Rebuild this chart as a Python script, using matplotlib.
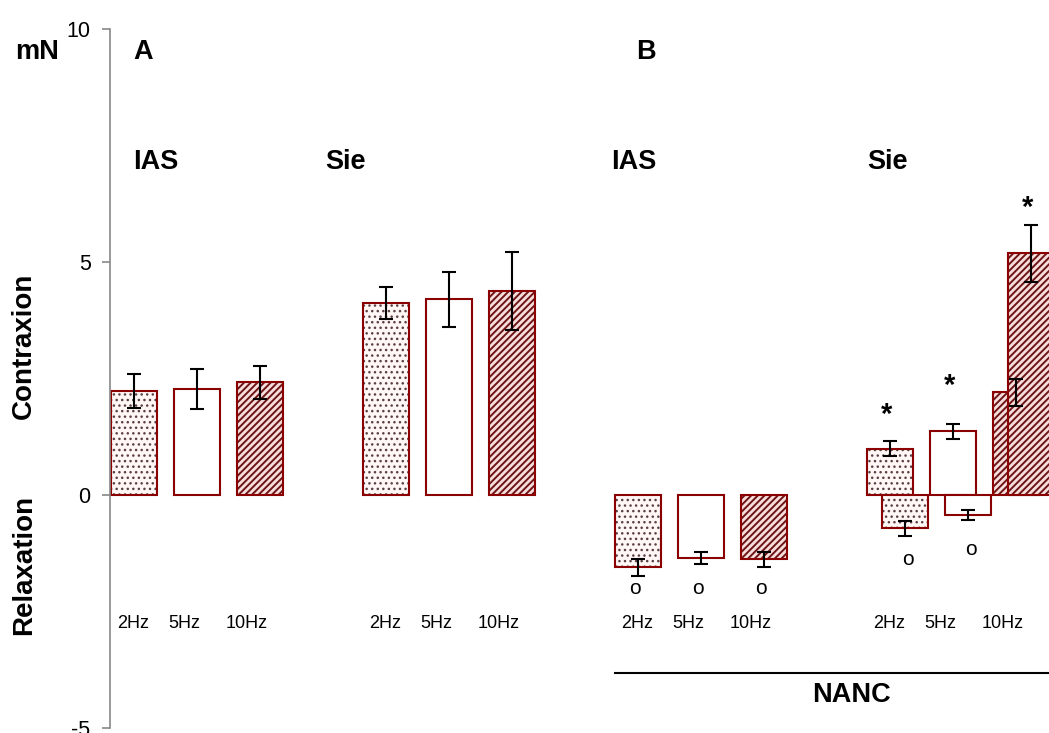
import matplotlib
matplotlib.use("Agg")
import matplotlib.pyplot as plt
from matplotlib.lines import Line2D

plt.rcParams['font.family'] = ['Liberation Sans', 'DejaVu Sans']

freqs = ["2Hz", "5Hz", "10Hz"]

# Panel A: responses to field stimulation (mN, mean ± SEM)
a_ias = [2.23, 2.27, 2.42]
a_ias_err = [0.36, 0.43, 0.35]
a_sie = [4.12, 4.20, 4.38]
a_sie_err = [0.35, 0.59, 0.84]

# Panel B: NANC conditions
b_ias = [-1.55, -1.35, -1.38]
b_ias_err = [0.18, 0.12, 0.16]
b_sie_contr = [0.99, 1.37, 2.20]
b_sie_contr_err = [0.16, 0.16, 0.30]
b_sie_second = [-0.71, -0.43, 5.19]
b_sie_second_err = [0.16, 0.10, 0.61]

# significance marks
star_y = [1.76, 2.40, 6.22]
o_ias_y = [-2.0, -2.0, -2.0]
o_sie_y = [-1.39, -1.16]

RED = '#8b0000'
styles = [
    dict(facecolor='#fff6f6', hatch='...', hatchcolor='#5a4040', hlw=1.0),
    dict(facecolor='white', hatch=None, hatchcolor=None, hlw=1.0),
    dict(facecolor='#f6dede', hatch='/////', hatchcolor='#6e1414', hlw=1.4),
]
WIDTH = 0.73
SHIFT = 0.24

fig = plt.figure(figsize=(10.49, 7.33), dpi=100)
W, H = 1049, 733
ax = fig.add_axes([110 / W, 5 / H, 939 / W, 699 / H])
ax.set_xlim(-0.381, 14.524)
ax.set_ylim(-5, 10)


def draw_group(start, values, shift=0.0):
    xs = [start + i + shift for i in range(len(values))]
    for x, v, st in zip(xs, values, styles):
        if st['hatch']:
            plt.rcParams['hatch.linewidth'] = st['hlw']
            ax.bar(x, v, width=WIDTH, color=st['facecolor'],
                   edgecolor=st['hatchcolor'], hatch=st['hatch'],
                   linewidth=0, zorder=2)
            ax.bar(x, v, width=WIDTH, fill=False, edgecolor=RED,
                   linewidth=1.5, zorder=2)
        else:
            ax.bar(x, v, width=WIDTH, color=st['facecolor'], edgecolor=RED,
                   linewidth=1.5, zorder=2)
    return xs


def draw_err(xs, values, errs):
    ax.errorbar(xs, values, yerr=errs, fmt='none', ecolor='black',
                elinewidth=1.5, capsize=5, capthick=1.5, zorder=5)


xa1 = draw_group(0, a_ias)
xa2 = draw_group(4, a_sie)
xb1 = draw_group(8, b_ias)
xb2 = draw_group(12, b_sie_contr)
xb3 = draw_group(12, b_sie_second, shift=SHIFT)

for xs, v, e in [(xa1, a_ias, a_ias_err), (xa2, a_sie, a_sie_err),
                 (xb1, b_ias, b_ias_err), (xb2, b_sie_contr, b_sie_contr_err),
                 (xb3, b_sie_second, b_sie_second_err)]:
    draw_err(xs, v, e)

# frequency labels under each cluster
label_offsets = [-0.02, 0.8, 1.79]
for start in [0, 4, 8, 12]:
    for off, f in zip(label_offsets, freqs):
        ax.text(start + off, -2.75, f, ha='center', va='center', fontsize=13)

# significance symbols
for x, y in zip([xb2[0], xb2[1], xb3[2]], star_y):
    ax.text(x - 0.06, y - 0.05, '*', ha='center', va='center', fontsize=21,
            fontweight='bold')
for x, y in zip(xb1, o_ias_y):
    ax.text(x - 0.05, y, 'o', ha='center', va='center', fontsize=15)
for x, y in zip(xb3[:2], o_sie_y):
    ax.text(x + 0.05, y, 'o', ha='center', va='center', fontsize=15)

# axis styling
for s in ['top', 'right', 'bottom']:
    ax.spines[s].set_visible(False)
ax.spines['left'].set_color('#888888')
ax.spines['left'].set_linewidth(1.2)
ax.set_xticks([])
ax.set_yticks([-5, 0, 5, 10])
ax.set_yticklabels(['-5', '0', '5', '10'])
ax.tick_params(axis='y', direction='out', length=6, width=1.2,
               color='#888888', labelsize=15.5, pad=8)


def ftext(px, py, s, **kw):
    fig.text(px / W, 1 - py / H, s, ha='center', va='center', **kw)


bold = dict(fontsize=19.5, fontweight='bold')
ftext(37, 52, 'mN', **bold)
ftext(143, 52, 'A', **bold)
ftext(646, 52, 'B', **bold)
ftext(156, 162, 'IAS', **bold)
ftext(345, 162, 'Sie', **bold)
ftext(634, 162, 'IAS', **bold)
ftext(887, 162, 'Sie', **bold)
ftext(24, 346, 'Contraxion', rotation=90, fontsize=20, fontweight='bold')
ftext(24, 565, 'Relaxation', rotation=90, fontsize=20, fontweight='bold')

fig.add_artist(Line2D([615 / W, 1.0], [1 - 673 / H, 1 - 673 / H],
                      color='black', linewidth=1.5, transform=fig.transFigure))
ftext(851, 695, 'NANC', **bold)

fig.savefig('out.png', dpi=100)
